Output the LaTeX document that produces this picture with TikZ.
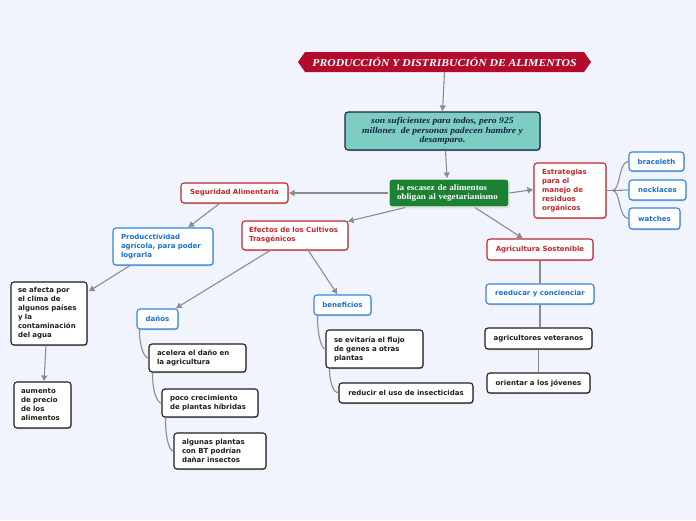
\documentclass[tikz,border=0pt]{standalone}
\usepackage{fontspec}
\usetikzlibrary{arrows.meta,shadows}
\newfontfamily\boxfont{DejaVu Sans}
\newfontfamily\serfont{Liberation Serif}[FakeStretch=1.1]
\definecolor{bgc}{HTML}{F2F4FD}
\definecolor{titlered}{HTML}{B30B2B}
\definecolor{tealf}{HTML}{7DCDC3}
\definecolor{navy}{HTML}{15233F}
\definecolor{greenf}{HTML}{1B8234}
\definecolor{redb}{HTML}{C1272D}
\definecolor{blueb}{HTML}{2F86E6}
\definecolor{bluet}{HTML}{1A70D2}
\definecolor{blackb}{HTML}{1E1E1E}
\definecolor{linec}{HTML}{8C8C8C}
\tikzset{
  base/.style={rounded corners=3pt, line width=1.1pt, fill=white, inner sep=0pt,
    font=\boxfont\bfseries\fontsize{7}{9}\selectfont,
    drop shadow={shadow xshift=0.6pt,shadow yshift=-1pt,opacity=0.25,fill=black}},
  redbox/.style={base, draw=redb, text=redb},
  bluebox/.style={base, draw=blueb, text=bluet},
  blackbox/.style={base, draw=blackb, text=blackb},
  conn/.style={draw=linec, line width=1.1pt},
  arr/.style={conn, -{Latex[length=6pt,width=7pt]}},
}
\begin{document}
\begin{tikzpicture}[x=1pt,y=-1pt]
\useasboundingbox[fill=bgc] (0,0) rectangle (696,520);
% title banner
\fill[titlered] (298,62) -- (305,52) -- (584,52) -- (591,62) -- (584,72) -- (305,72) -- cycle;
\node[text=white, font=\serfont\bfseries\itshape\fontsize{10.6}{12}\selectfont, inner sep=0pt, minimum width=286pt, minimum height=20pt] (title) at (444.5,62) {PRODUCCIÓN Y DISTRIBUCIÓN DE ALIMENTOS};
% teal
\node[rounded corners=3pt, line width=1.1pt, draw=navy, fill=tealf, text=navy, inner sep=0pt,
  minimum width=195pt, minimum height=38pt, align=center,
  font=\serfont\bfseries\itshape\fontsize{8.8}{9.6}\selectfont,
  drop shadow={shadow xshift=0.6pt,shadow yshift=-1pt,opacity=0.25,fill=black}] (teal) at (442.5,131)
  {son suficientes para todos, pero 925\\millones\ \ de personas padecen hambre y\\desamparo.};
% green
\node[rounded corners=3pt, line width=1.1pt, draw=white, fill=greenf, text=white, inner sep=0pt,
  minimum width=120pt, minimum height=28pt, text width=104pt, align=left,
  font=\serfont\bfseries\fontsize{8.3}{9.5}\selectfont,
  drop shadow={shadow xshift=0.6pt,shadow yshift=-1pt,opacity=0.25,fill=black}] (green) at (449,193)
  {la escasez de alimentos\\obligan al vegetarianismo};
% red boxes
\node[redbox, minimum width=107pt, minimum height=20pt] (seg) at (234.5,193) {Seguridad Alimentaria};
\node[redbox, minimum width=106pt, minimum height=29pt, text width=92pt, align=left] (efe) at (295,235.5) {Efectos de los Cultivos\\Trasgénicos};
\node[redbox, minimum width=106pt, minimum height=21pt] (agri) at (540,249.5) {Agricultura Sostenible};
\node[redbox, minimum width=72pt, minimum height=55pt, text width=56pt, align=left] (estr) at (570,190.5) {Estrategias\\para el\\manejo de\\residuos\\orgánicos};
% blue boxes
\node[bluebox, minimum width=55pt, minimum height=19pt] (brac) at (656.5,161.5) {braceleth};
\node[bluebox, minimum width=57pt, minimum height=20pt] (neck) at (657.5,190) {necklaces};
\node[bluebox, minimum width=51pt, minimum height=21pt] (watch) at (654.5,218.5) {watches};
\node[bluebox, minimum width=100pt, minimum height=37pt, text width=84pt, align=left] (prod) at (163,246.5) {Producctividad\\agrícola, para poder\\lograrla};
\node[bluebox, minimum width=41pt, minimum height=20pt] (danos) at (157.5,319) {daños};
\node[bluebox, minimum width=57pt, minimum height=20pt] (benef) at (342.5,305) {beneficios};
\node[bluebox, minimum width=108pt, minimum height=20pt] (reed) at (540,294) {reeducar y concienciar};
% black boxes
\node[blackbox, minimum width=76pt, minimum height=63pt, text width=62pt, align=left] (afe) at (49,313.5) {se afecta por\\el clima de\\algunos países\\y la\\contaminación\\del agua};
\node[blackbox, minimum width=57pt, minimum height=46pt, text width=43pt, align=left] (aum) at (42.5,405) {aumento\\de precio\\de los\\alimentos};
\node[blackbox, minimum width=97pt, minimum height=28pt, text width=81pt, align=left] (acel) at (197.5,358) {acelera el daño en\\la agricultura};
\node[blackbox, minimum width=96pt, minimum height=28pt, text width=80pt, align=left] (poco) at (210,403) {poco crecimiento\\de plantas híbridas};
\node[blackbox, minimum width=92pt, minimum height=36pt, text width=76pt, align=left] (algu) at (220,451) {algunas plantas\\con BT podrían\\dañar insectos};
\node[blackbox, minimum width=97pt, minimum height=38pt, text width=81pt, align=left] (evit) at (374.5,349) {se evitaría el flujo\\de genes a otras\\plantas};
\node[blackbox, minimum width=134pt, minimum height=20pt] (redu) at (406,393) {reducir el uso de insecticidas};
\node[blackbox, minimum width=107pt, minimum height=21pt] (agv) at (538.5,338.5) {agricultores veteranos};
\node[blackbox, minimum width=103pt, minimum height=20pt] (ori) at (538.5,383) {orientar a los jóvenes};
% arrows
\draw[arr] (title.south) -- (teal.north);
\draw[arr] ([xshift=3pt]teal.south) -- ([xshift=-2pt]green.north);
\draw[arr] (green.west) -- (seg.east);
\draw[arr] ([xshift=-44pt]green.south) -- ([xshift=-1pt,yshift=-1pt]efe.north east);
\draw[arr] ([xshift=26pt]green.south) -- ([xshift=-17pt]agri.north);
\draw[arr] (green.east) -- ([yshift=1pt]estr.west);
\draw[arr] ([xshift=-15pt]seg.south) -- ([xshift=25pt]prod.north);
\draw[arr] ([xshift=-33pt]prod.south) -- ([xshift=1pt,yshift=-10pt]afe.north east);
\draw[arr] ([xshift=-3pt]afe.south) -- ([xshift=1.5pt]aum.north);
\draw[arr] ([xshift=-25pt]efe.south) -- ([xshift=-3pt]danos.north east);
\draw[arr] ([xshift=12pt,yshift=2pt]efe.south) -- ([xshift=-5pt]benef.north);
% branches
\draw[conn] ([xshift=6pt]estr.east) -- (estr.east);
\draw[conn] ([xshift=6pt]estr.east) .. controls ([xshift=14pt]estr.east) and ([xshift=-10pt]brac.west) .. (brac.west);
\draw[conn] ([xshift=6pt]estr.east) -- (neck.west);
\draw[conn] ([xshift=6pt]estr.east) .. controls ([xshift=14pt]estr.east) and ([xshift=-10pt]watch.west) .. (watch.west);
\draw[conn] ([xshift=3pt]danos.south west) .. controls ([xshift=3pt,yshift=-18pt]danos.south west) and ([xshift=-4pt]acel.west) .. (acel.west);
\draw[conn] ([xshift=4pt]acel.south west) .. controls ([xshift=4pt,yshift=-20pt]acel.south west) and ([xshift=-4pt]poco.west) .. (poco.west);
\draw[conn] ([xshift=4pt]poco.south west) .. controls ([xshift=4pt,yshift=-22pt]poco.south west) and ([xshift=-4pt]algu.west) .. (algu.west);
\draw[conn] ([xshift=4pt]benef.south west) .. controls ([xshift=4pt,yshift=-20pt]benef.south west) and ([xshift=-4pt]evit.west) .. (evit.west);
\draw[conn] ([xshift=4pt]evit.south west) .. controls ([xshift=4pt,yshift=-16pt]evit.south west) and ([xshift=-4pt]redu.west) .. (redu.west);
\draw[conn] (agri.south) -- (reed.north);
\draw[conn] (reed.south) -- ([xshift=1.5pt]agv.north);
\draw[conn] (agv.south) -- (ori.north);
\end{tikzpicture}
\end{document}
